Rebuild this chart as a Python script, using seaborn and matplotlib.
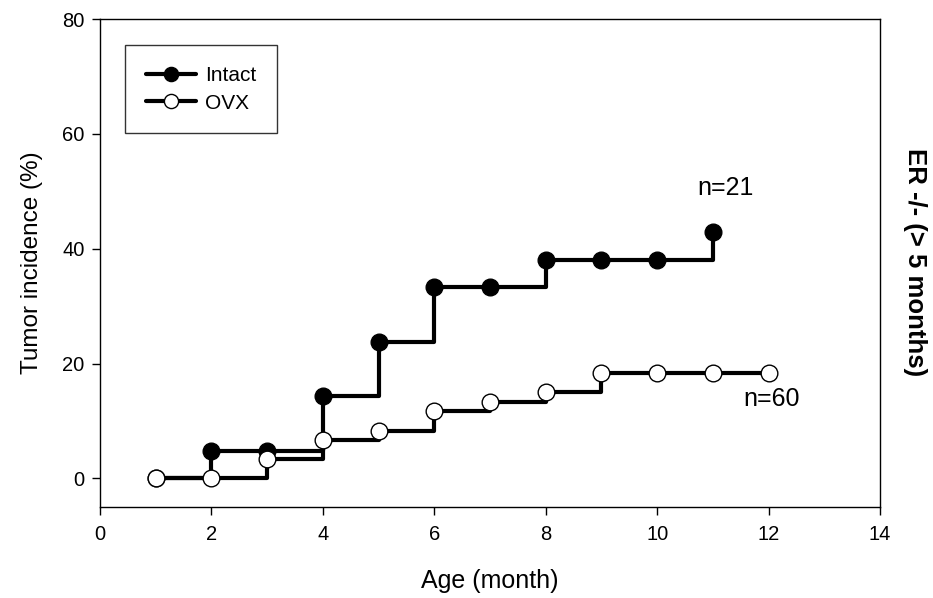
import matplotlib
matplotlib.use("Agg")
import matplotlib.pyplot as plt
import seaborn as sns
import pandas as pd

intact_age = [1, 2, 3, 4, 5, 6, 7, 8, 9, 10, 11]
intact_inc = [0, 4.8, 4.8, 14.3, 23.8, 33.3, 33.3, 38.1, 38.1, 38.1, 42.9]
ovx_age = [1, 2, 3, 4, 5, 6, 7, 8, 9, 10, 11, 12]
ovx_inc = [0, 0, 3.3, 6.7, 8.3, 11.7, 13.3, 15.0, 18.3, 18.3, 18.3, 18.3]
x_ticks = [0, 2, 4, 6, 8, 10, 12, 14]
y_ticks = [0, 20, 40, 60, 80]

sns.set_style("ticks")
plt.rcParams['font.family'] = ['Liberation Sans', 'DejaVu Sans']
plt.rcParams['text.color'] = 'black'
plt.rcParams['axes.labelcolor'] = 'black'
plt.rcParams['xtick.color'] = 'black'
plt.rcParams['ytick.color'] = 'black'
plt.rcParams['axes.edgecolor'] = 'black'

fig = plt.figure(figsize=(9.33, 5.98), dpi=100)
ax = fig.add_axes([0.1072, 0.152, 0.8360, 0.816])

df_i = pd.DataFrame({"age": intact_age, "inc": intact_inc})
df_o = pd.DataFrame({"age": ovx_age, "inc": ovx_inc})

sns.lineplot(data=df_i, x="age", y="inc", ax=ax, color="black", lw=3,
             drawstyle="steps-post", marker="o", markersize=12,
             markerfacecolor="black", markeredgecolor="black", markeredgewidth=1,
             label="Intact", zorder=3)
sns.lineplot(data=df_o, x="age", y="inc", ax=ax, color="black", lw=3,
             drawstyle="steps-post", marker="o", markersize=12,
             markerfacecolor="white", markeredgecolor="black", markeredgewidth=1,
             label="OVX", zorder=4)

ax.set_xlim(0, 14)
ax.set_ylim(-5, 80)
ax.set_xticks(x_ticks)
ax.set_yticks(y_ticks)
ax.tick_params(direction="out", length=6, width=1, labelsize=14.5, colors="black")
ax.tick_params(axis="x", pad=7)
ax.tick_params(axis="y", pad=5)
for s in ax.spines.values():
    s.set_visible(True)
    s.set_color("black")
    s.set_linewidth(1)

ax.set_xlabel("Age (month)", fontsize=18, labelpad=18)
ax.set_ylabel("Tumor incidence (%)", fontsize=17.5, labelpad=14)

leg = ax.legend(loc="upper left", bbox_to_anchor=(0.032, 0.947), fontsize=15,
                frameon=True, fancybox=False, edgecolor="black",
                handlelength=2.4, borderpad=1.0, labelspacing=0.42, handletextpad=0.45,
                borderaxespad=0, markerscale=0.85)
leg.get_frame().set_linewidth(1)

ax.text(11.22, 50.5, "n=21", fontsize=18, ha="center", va="center")
ax.text(12.06, 13.9, "n=60", fontsize=18, ha="center", va="center")

fig.text(0.981, 0.562, "ER -/- (> 5 months)", rotation=-90, fontsize=18.5,
         fontweight="bold", ha="center", va="center")

fig.savefig("out.png", dpi=100)
